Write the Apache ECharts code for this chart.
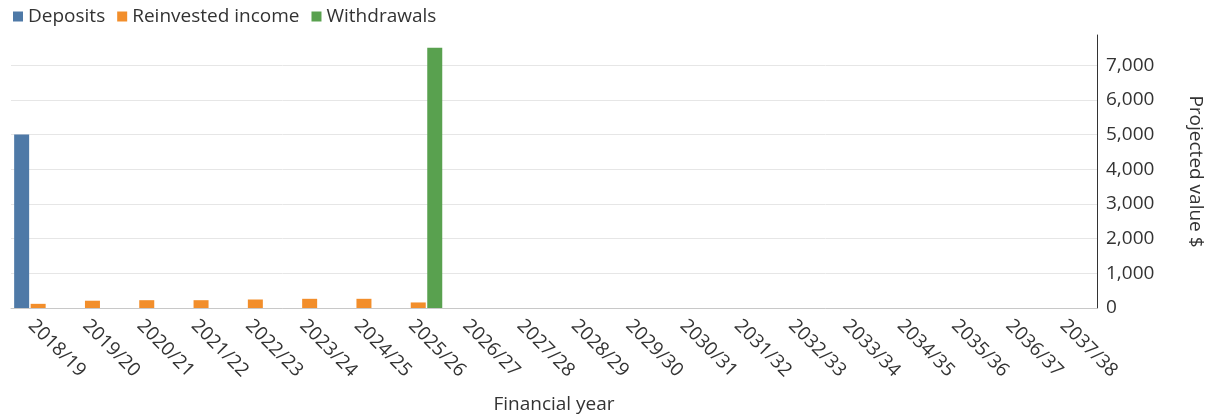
<!DOCTYPE html>
<html>
<head>
<meta charset="utf-8">
<script src="https://cdn.jsdelivr.net/npm/echarts@6/dist/echarts.min.js"></script>
<style>
  html, body { margin: 0; padding: 0; background: #fff; }
  #main { width: 1209px; height: 419px; }
</style>
</head>
<body>
<div id="main"></div>
<script>
// values
const years = ['2018/19', '2019/20', '2020/21', '2021/22', '2022/23', '2023/24', '2024/25',
  '2025/26', '2026/27', '2027/28', '2028/29', '2029/30', '2030/31', '2031/32', '2032/33',
  '2033/34', '2034/35', '2035/36', '2036/37', '2037/38']
const deposits = [5000, 0, 0, 0, 0, 0, 0, 0, 0, 0, 0, 0, 0, 0, 0, 0, 0, 0, 0, 0]
const reinvested = [120, 210, 225, 225, 245, 265, 265, 160, 0, 0, 0, 0, 0, 0, 0, 0, 0, 0, 0, 0]
const withdrawals = [0, 0, 0, 0, 0, 0, 0, 7500, 0, 0, 0, 0, 0, 0, 0, 0, 0, 0, 0, 0]

const font = '"Open Sans", "Noto Sans", sans-serif'
const textColor = '#333'

const chart = echarts.init(document.getElementById('main'), null, { renderer: 'canvas' })

const option = {
  animation: false,
  textStyle: { fontFamily: font },
  legend: {
    left: 8,
    top: 2,
    itemWidth: 10,
    itemHeight: 10,
    itemGap: 12,
    icon: 'rect',
    textStyle: { fontSize: 19, color: textColor, fontFamily: font },
    data: ['Deposits', 'Reinvested income', 'Withdrawals']
  },
  grid: {
    left: 11,
    right: 112,
    top: 35,
    bottom: 111,
    containLabel: false,
    outerBoundsMode: 'none'
  },
  xAxis: {
    type: 'category',
    data: years,
    name: 'Financial year',
    nameLocation: 'middle',
    nameGap: 87,
    nameTextStyle: { fontSize: 19, color: textColor, fontFamily: font },
    axisLine: { lineStyle: { color: '#c8c8c8' } },
    axisTick: { alignWithLabel: true, length: 5, lineStyle: { color: '#999' } },
    axisLabel: {
      rotate: -45,
      interval: 0,
      margin: 8,
      verticalAlign: 'top',
      fontSize: 19,
      color: textColor,
      fontFamily: font
    }
  },
  yAxis: {
    type: 'value',
    position: 'right',
    min: 0,
    max: 7870,
    interval: 1000,
    name: 'Projected value $',
    nameLocation: 'middle',
    nameRotate: -90,
    nameGap: 89,
    nameTextStyle: { fontSize: 19, color: textColor, fontFamily: font },
    axisLine: { show: true, lineStyle: { color: '#333' } },
    axisTick: { show: false },
    axisLabel: {
      margin: 9,
      fontSize: 19,
      color: textColor,
      fontFamily: font,
      showMaxLabel: false
    },
    splitLine: { showMaxLine: false, lineStyle: { color: '#e6e6e6' } }
  },
  series: [
    {
      name: 'Deposits',
      type: 'bar',
      data: deposits,
      barWidth: 15,
      barGap: '10%',
      itemStyle: { color: '#4e79a7' }
    },
    {
      name: 'Reinvested income',
      type: 'bar',
      data: reinvested,
      barWidth: 15,
      barGap: '10%',
      itemStyle: { color: '#f28e2b' }
    },
    {
      name: 'Withdrawals',
      type: 'bar',
      data: withdrawals,
      barWidth: 15,
      barGap: '10%',
      itemStyle: { color: '#59a14f' }
    }
  ]
}

chart.setOption(option)
</script>
</body>
</html>
